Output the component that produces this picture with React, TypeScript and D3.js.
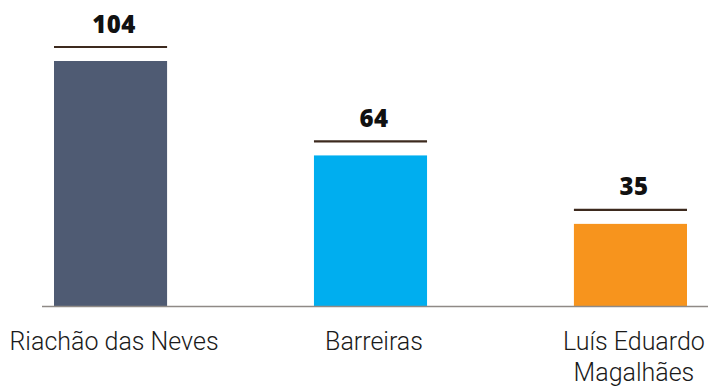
import React from "react";
import * as d3 from "d3";

const categories: string[][] = [["Riachão das Neves"], ["Barreiras"], ["Luís Eduardo", "Magalhães"]];
const keys = ["Riachão das Neves", "Barreiras", "Luís Eduardo Magalhães"];
const values = [104, 64, 35];
const colors = ["#4f5b73", "#00aeef", "#f7941d"];

const W = 710;
const H = 387;
const baseline = 306.5;

export default function App() {
  const x = d3.scaleBand<string>().domain(keys).range([54, 687]).paddingInner(0.565).paddingOuter(0);
  const y = d3.scaleLinear().domain([0, 104]).range([baseline, 61]);
  const bw = x.bandwidth();
  return (
    <svg width={W} height={H} style={{ position: "absolute", left: 0, top: 0, background: "#fff" }}>
      {keys.map((k, i) => {
        const x0 = x(k)!;
        const top = y(values[i]);
        const lineY = top - 14;
        const cx = x0 + bw / 2;
        return (
          <g key={k}>
            <rect x={x0} y={top} width={bw} height={baseline - top} fill={colors[i]} />
            <line x1={x0} x2={x0 + bw} y1={lineY} y2={lineY} stroke="#3d2a1e" strokeWidth={2.2} />
            <text
              x={cx + 3.5}
              y={lineY - 14.5}
              textAnchor="middle"
              fontFamily="'Open Sans', sans-serif"
              fontWeight={800}
              fontSize={24}
              letterSpacing={0.5}
              fill="#111"
            >
              {values[i]}
            </text>
            {categories[i].map((ln, j) => (
              <text
                key={j}
                x={cx + 3.5}
                y={350 + j * 31}
                textAnchor="middle"
                fontFamily="Roboto, sans-serif"
                fontWeight={300}
                fontSize={25}
                fill="#1a1a1a"
              >
                {ln}
              </text>
            ))}
          </g>
        );
      })}
      <line x1={42} x2={708} y1={baseline} y2={baseline} stroke="#8f8a86" strokeWidth={1.5} />
    </svg>
  );
}
